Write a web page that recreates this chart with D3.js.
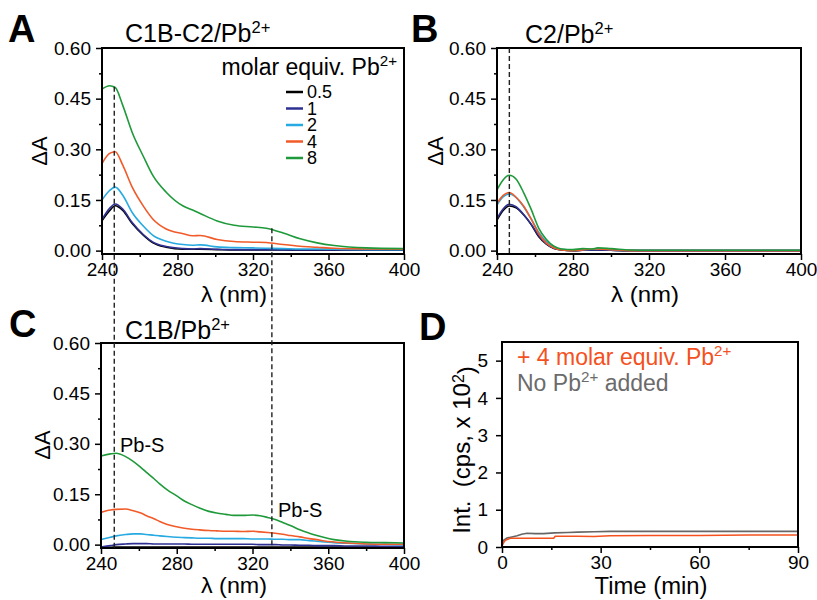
<!DOCTYPE html>
<html>
<head>
<meta charset="utf-8">
<script src="https://cdn.jsdelivr.net/npm/d3@7"></script>
<style>
body { margin: 0; background: #fff; }
text { font-family: "Liberation Sans", Arial, sans-serif; }
</style>
</head>
<body>
<div id="fig"></div>
<script>
// molar equivalents of Pb2+ and their colours
const equivLabels = ["0.5", "1", "2", "4", "8"];
const equivColors = ["#000000", "#2e3192", "#27aae1", "#f15a29", "#1f9a3a"];

// panel A : C1B-C2/Pb2+
const wlA = [240, 244, 247, 251, 256, 262, 267, 274, 283, 288, 292, 301, 310, 320, 327, 336, 345, 354, 363, 380, 400];
const a05 = [0.088, 0.118, 0.133, 0.119, 0.080, 0.045, 0.023, 0.010, 0.004, 0.004, 0.004, 0.003, 0.002, 0.002, 0.002, 0.002, 0.001, 0.001, 0.001, 0.001, 0.001];
const a1  = [0.092, 0.125, 0.138, 0.123, 0.083, 0.047, 0.025, 0.012, 0.006, 0.005, 0.006, 0.004, 0.003, 0.003, 0.003, 0.002, 0.002, 0.002, 0.002, 0.002, 0.002];
const a2  = [0.150, 0.178, 0.188, 0.164, 0.113, 0.072, 0.045, 0.028, 0.018, 0.016, 0.017, 0.011, 0.009, 0.008, 0.007, 0.006, 0.005, 0.005, 0.004, 0.003, 0.003];
const a4  = [0.258, 0.288, 0.293, 0.253, 0.188, 0.131, 0.093, 0.064, 0.050, 0.044, 0.045, 0.033, 0.027, 0.025, 0.024, 0.018, 0.013, 0.010, 0.007, 0.005, 0.004];
const a8  = [0.478, 0.488, 0.483, 0.430, 0.350, 0.278, 0.222, 0.173, 0.132, 0.120, 0.110, 0.088, 0.075, 0.070, 0.066, 0.052, 0.035, 0.023, 0.015, 0.008, 0.006];

// panel B : C2/Pb2+
const wlB = [240, 243, 246.5, 250, 254, 258, 262, 266, 270, 274, 280, 285, 290, 293, 300, 310, 320, 340, 360, 380, 400];
const b05 = [0.090, 0.117, 0.132, 0.127, 0.106, 0.077, 0.041, 0.019, 0.006, 0.002, 0.000, 0.001, 0.002, 0.002, 0.001, 0.000, 0.000, 0.000, 0.000, 0.000, 0.000];
const b1  = [0.095, 0.122, 0.137, 0.130, 0.107, 0.078, 0.044, 0.020, 0.007, 0.002, 0.000, 0.001, 0.002, 0.002, 0.001, 0.000, 0.000, 0.000, 0.000, 0.000, 0.000];
const b2  = [0.135, 0.158, 0.168, 0.158, 0.130, 0.094, 0.054, 0.027, 0.011, 0.004, 0.002, 0.003, 0.004, 0.005, 0.003, 0.001, 0.001, 0.001, 0.001, 0.001, 0.001];
const b4  = [0.140, 0.162, 0.172, 0.158, 0.132, 0.093, 0.050, 0.022, 0.008, 0.002, 0.000, 0.002, 0.005, 0.005, 0.003, 0.000, 0.000, 0.000, 0.000, 0.000, 0.000];
const b8  = [0.180, 0.208, 0.223, 0.212, 0.172, 0.122, 0.066, 0.033, 0.013, 0.005, 0.003, 0.006, 0.005, 0.008, 0.006, 0.002, 0.001, 0.001, 0.001, 0.001, 0.001];

// panel C : C1B/Pb2+
const wlC = [240, 245, 248, 253, 257, 261, 264, 268, 271, 275, 280, 284, 288, 292, 297, 301, 306, 310, 315, 320, 324, 328, 332, 336, 340, 345, 350, 354, 358, 363, 370, 380, 390, 400];
const c05 = [-0.008, -0.008, -0.007, -0.007, -0.007, -0.007, -0.007, -0.007, -0.007, -0.007, -0.007, -0.007, -0.007, -0.007, -0.007, -0.007, -0.007, -0.007, -0.007, -0.007, -0.007, -0.007, -0.007, -0.007, -0.007, -0.007, -0.007, -0.007, -0.007, -0.007, -0.007, -0.007, -0.007, -0.007];
const c1  = [-0.007, -0.003, 0.000, 0.002, 0.003, 0.003, 0.003, 0.002, 0.002, 0.002, 0.002, 0.002, 0.001, 0.001, 0.001, 0.001, 0.001, 0.001, 0.001, 0.001, 0.000, 0.000, 0.000, -0.001, -0.001, -0.002, -0.002, -0.003, -0.003, -0.003, -0.004, -0.004, -0.005, -0.005];
const c2  = [0.015, 0.022, 0.026, 0.030, 0.032, 0.032, 0.030, 0.028, 0.026, 0.024, 0.022, 0.021, 0.020, 0.019, 0.019, 0.018, 0.018, 0.018, 0.018, 0.017, 0.017, 0.017, 0.016, 0.016, 0.015, 0.015, 0.012, 0.010, 0.008, 0.006, 0.004, 0.002, 0.001, 0.000];
const c4  = [0.096, 0.103, 0.105, 0.106, 0.101, 0.094, 0.086, 0.077, 0.069, 0.060, 0.053, 0.049, 0.046, 0.044, 0.042, 0.041, 0.040, 0.040, 0.039, 0.040, 0.038, 0.036, 0.034, 0.031, 0.027, 0.023, 0.018, 0.015, 0.011, 0.008, 0.005, 0.002, 0.001, 0.001];
const c8  = [0.264, 0.270, 0.272, 0.262, 0.248, 0.230, 0.215, 0.196, 0.181, 0.163, 0.145, 0.130, 0.119, 0.109, 0.099, 0.094, 0.090, 0.087, 0.087, 0.088, 0.086, 0.081, 0.075, 0.066, 0.057, 0.044, 0.034, 0.027, 0.021, 0.015, 0.010, 0.007, 0.006, 0.005];

// panel D : emission over time
const timeNoPb = [0, 0.5, 1.5, 3, 4.6, 6, 7.6, 10, 12.6, 16, 20, 23, 28, 33, 40, 53, 70, 90];
const intNoPb  = [0.07, 0.18, 0.24, 0.27, 0.30, 0.34, 0.37, 0.36, 0.36, 0.38, 0.39, 0.40, 0.41, 0.42, 0.42, 0.42, 0.42, 0.42];
const timePb   = [0, 0.5, 1, 2.5, 8, 15.7, 16.2, 22.8, 28, 32.9, 45, 60, 75, 90];
const intPb    = [0.03, 0.12, 0.18, 0.235, 0.235, 0.235, 0.29, 0.29, 0.28, 0.30, 0.31, 0.31, 0.32, 0.32];

// tick values
const wlTicks = [240, 280, 320, 360, 400];
const wlMinor = [260, 300, 340, 380];
const dATicks = [0, 0.15, 0.30, 0.45, 0.60];
const dAMinor = [0.075, 0.225, 0.375, 0.525];
const timeTicks = [0, 30, 60, 90];
const timeMinor = [15, 45, 75];
const intTicks = [0, 1, 2, 3, 4, 5];

const svg = d3.select("#fig").append("svg")
    .attr("width", 817)
    .attr("height", 600);

// builds one framed panel with outward major + minor ticks
function makePanel(box, xDom, yDom, xt, xm, yt, ym, yfmt, ypad) {
    let x = d3.scaleLinear().domain(xDom).range([box.left, box.right]);
    let y = d3.scaleLinear().domain(yDom).range([box.bottom, box.top]);
    let g = svg.append("g");

    let ax = g.append("g").attr("transform", "translate(0," + box.bottom + ")");
    ax.append("g").call(d3.axisBottom(x).tickValues(xm).tickSize(3).tickFormat(""));
    ax.append("g").call(d3.axisBottom(x).tickValues(xt).tickSize(6).tickPadding(3).tickFormat(d3.format("d")));

    let ay = g.append("g").attr("transform", "translate(" + box.left + ",0)");
    if (ym) ay.append("g").call(d3.axisLeft(y).tickValues(ym).tickSize(3).tickFormat(""));
    ay.append("g").call(d3.axisLeft(y).tickValues(yt).tickSize(6).tickPadding(ypad).tickFormat(yfmt));

    g.selectAll(".domain").remove();
    g.selectAll(".tick line").attr("stroke", "#000").attr("stroke-width", 1.5);
    g.selectAll(".tick text")
        .attr("fill", "#000")
        .style("font-family", "'Liberation Sans', Arial, sans-serif")
        .style("font-size", "19px");

    let plot = g.append("g");
    g.append("rect")
        .attr("x", box.left).attr("y", box.top)
        .attr("width", box.right - box.left)
        .attr("height", box.bottom - box.top)
        .attr("fill", "none")
        .attr("stroke", "#000")
        .attr("stroke-width", 2);
    return { x: x, y: y, g: g, plot: plot };
}

function drawCurves(p, xs, series, curve) {
    let line = d3.line()
        .x(function (d) { return p.x(d[0]) })
        .y(function (d) { return p.y(d[1]) })
        .curve(curve);
    series.forEach(function (vals, i) {
        p.plot.append("path")
            .datum(xs.map(function (v, j) { return [v, vals[j]] }))
            .attr("d", line)
            .attr("fill", "none")
            .attr("stroke", equivColors[i])
            .attr("stroke-width", 1.6);
    });
}

// text with superscript part
function supText(parent, x, y, main, sup, rest, size, color, anchor) {
    let t = parent.append("text")
        .attr("x", x).attr("y", y)
        .attr("font-size", size)
        .attr("fill", color || "#000")
        .attr("text-anchor", anchor || "start");
    t.append("tspan").text(main);
    t.append("tspan").attr("dy", -0.38 * size).attr("font-size", size * 0.66).text(sup);
    if (rest) t.append("tspan").attr("dy", 0.38 * size).text(rest);
    return t;
}

function yLabel(parent, cx, cy, txt, size) {
    return parent.append("text")
        .attr("transform", "translate(" + cx + "," + cy + ") rotate(-90)")
        .attr("text-anchor", "middle")
        .attr("dy", "0.35em")
        .attr("font-size", size)
        .style("white-space", "pre")
        .text(txt);
}

function xLabel(cx, y, txt, w) {
    return svg.append("text").attr("x", cx).attr("y", y)
        .attr("text-anchor", "middle").attr("font-size", 22)
        .attr("textLength", w).attr("lengthAdjust", "spacingAndGlyphs")
        .text(txt);
}

function letter(x, y, s) {
    svg.append("text").attr("x", x).attr("y", y)
        .attr("font-size", 38).attr("font-weight", "bold").text(s);
}

const fmt2 = d3.format(".2f");
const yDomA = [-0.01, 0.60];

// ---- A ----
let pA = makePanel({ left: 102, right: 404, top: 48, bottom: 254 }, [240, 400], yDomA, wlTicks, wlMinor, dATicks, dAMinor, fmt2, 5);
drawCurves(pA, wlA, [a05, a1, a2, a4, a8], d3.curveMonotoneX);
letter(8, 42, "A");
supText(svg, 125, 42, "C1B-C2/Pb", "2+", null, 25);
yLabel(svg, 39, 151, "ΔA", 22);
xLabel(234, 302, "λ (nm)", 66);

supText(pA.g, 397, 75, "molar equiv. Pb", "2+", null, 23, "#000", "end");
equivLabels.forEach(function (lab, i) {
    let yy = 92 + i * 16.5;
    pA.g.append("line").attr("x1", 286).attr("x2", 303).attr("y1", yy).attr("y2", yy)
        .attr("stroke", equivColors[i]).attr("stroke-width", 2.5);
    pA.g.append("text").attr("x", 307).attr("y", yy).attr("dy", "0.36em")
        .attr("font-size", 18).text(lab);
});

// ---- B ----
let pB = makePanel({ left: 497, right: 801, top: 48, bottom: 254 }, [240, 400], yDomA, wlTicks, wlMinor, dATicks, dAMinor, fmt2, 5);
drawCurves(pB, wlB, [b05, b1, b2, b4, b8], d3.curveMonotoneX);
pB.g.append("line")
    .attr("x1", pB.x(246.5)).attr("x2", pB.x(246.5))
    .attr("y1", 48).attr("y2", 254)
    .attr("stroke", "#222").attr("stroke-width", 1.4).attr("stroke-dasharray", "5,3");
letter(411, 42, "B");
supText(svg, 525, 43, "C2/Pb", "2+", null, 25);
yLabel(svg, 435, 151, "ΔA", 22);
xLabel(645, 302, "λ (nm)", 68);

// ---- C ----
let pC = makePanel({ left: 101, right: 404, top: 343, bottom: 548 }, [240, 400], yDomA, wlTicks, wlMinor, dATicks, dAMinor, fmt2, 5);
drawCurves(pC, wlC, [c05, c1, c2, c4, c8], d3.curveMonotoneX);
letter(9, 337, "C");
supText(svg, 125, 339, "C1B/Pb", "2+", null, 25);
yLabel(svg, 42, 445, "ΔA", 22);
xLabel(234, 593, "λ (nm)", 66);
svg.append("text").attr("x", 120).attr("y", 452).attr("font-size", 20).text("Pb-S");
svg.append("text").attr("x", 278).attr("y", 517).attr("font-size", 20).text("Pb-S");

// dashed guides through A and C
[[246.5, 0.485], [330, 0.066]].forEach(function (d) {
    svg.append("line")
        .attr("x1", pA.x(d[0])).attr("x2", pA.x(d[0]))
        .attr("y1", pA.y(d[1])).attr("y2", 548)
        .attr("stroke", "#222").attr("stroke-width", 1.4).attr("stroke-dasharray", "5,3");
});

// ---- D ----
let pD = makePanel({ left: 502, right: 798, top: 342, bottom: 547 }, [0, 90], [0, 5.5], timeTicks, timeMinor, intTicks, null, d3.format("d"), 8);
let lineD = d3.line()
    .x(function (d) { return pD.x(d[0]) })
    .y(function (d) { return pD.y(d[1]) });
pD.plot.append("path")
    .datum(timeNoPb.map(function (t, i) { return [t, intNoPb[i]] }))
    .attr("d", lineD).attr("fill", "none").attr("stroke", "#666666").attr("stroke-width", 1.6);
pD.plot.append("path")
    .datum(timePb.map(function (t, i) { return [t, intPb[i]] }))
    .attr("d", lineD).attr("fill", "none").attr("stroke", "#f4511e").attr("stroke-width", 1.6);
letter(419, 340, "D");
supText(svg, 517, 365, "+ 4 molar equiv. Pb", "2+", null, 23, "#f4511e");
supText(svg, 517, 391, "No Pb", "2+", " added", 23, "#6b6b6b");
let yl = yLabel(svg, 462, 450, "", 24);
yl.append("tspan").text("Int.  (cps, x 10");
yl.append("tspan").attr("dy", "-0.4em").attr("font-size", 16).text("2");
yl.append("tspan").attr("dy", "0.4em").text(")");
svg.append("text").attr("x", 651).attr("y", 594).attr("text-anchor", "middle")
    .attr("font-size", 23).attr("textLength", 113).attr("lengthAdjust", "spacingAndGlyphs")
    .text("Time (min)");
</script>
</body>
</html>
